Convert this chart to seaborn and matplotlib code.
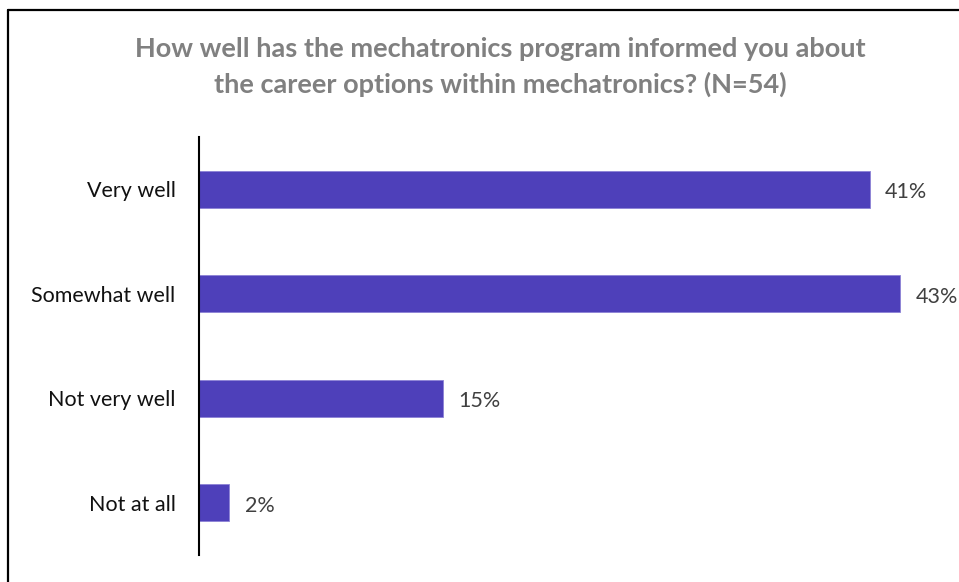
import matplotlib
matplotlib.use("Agg")
import matplotlib.pyplot as plt
from matplotlib.lines import Line2D
import seaborn as sns
import pandas as pd

categories = ["Very well", "Somewhat well", "Not very well", "Not at all"]
counts = [22, 23, 8, 1]
n_total = 54
percents = [c / n_total * 100 for c in counts]
value_labels = [f"{round(p):.0f}%" for p in percents]
title = "How well has the mechatronics program informed you about\nthe career options within mechatronics? (N=54)"

df = pd.DataFrame({"response": categories, "percent": percents})

sns.set_theme(style="white")
plt.rcParams["font.family"] = ["Lato", "DejaVu Sans"]

W, H = 959, 582
fig = plt.figure(figsize=(W / 100, H / 100), dpi=100)
ax = fig.add_axes([199 / W, 1 - 555 / H, (940 - 199) / W, (555 - 137) / H])

sns.barplot(data=df, x="percent", y="response", order=categories,
            color="#4E40BA", saturation=1, width=0.355, ax=ax,
            edgecolor="#8C82D6", linewidth=0.6)

ax.set_xlim(0, 45)
ax.set_ylim(3.5, -0.5)
ax.set_xlabel("")
ax.set_ylabel("")
ax.set_xticks([])
for side in ("top", "right", "bottom"):
    ax.spines[side].set_visible(False)
ax.spines["left"].set_color("black")
ax.spines["left"].set_linewidth(1.5)
ax.tick_params(axis="y", length=0, pad=17, labelsize=15.5, labelcolor="#111111")

for i, (p, lab) in enumerate(zip(percents, value_labels)):
    ax.annotate(lab, (p, i), xytext=(11, -2), textcoords="offset points",
                va="center", ha="left", fontsize=15.5, color="#404040")

fig.text(500 / W, 1 - 67 / H, title, ha="center", va="center",
         fontsize=19.5, fontweight="bold", color="#808080", linespacing=1.5)

# frame lines along the top and left of the figure
fig.add_artist(Line2D([8 / W, 1], [1 - 10 / H, 1 - 10 / H], color="black", lw=1.6,
                      transform=fig.transFigure))
fig.add_artist(Line2D([8 / W, 8 / W], [0, 1 - 10 / H], color="black", lw=1.6,
                      transform=fig.transFigure))

fig.savefig("out.png", dpi=100)
